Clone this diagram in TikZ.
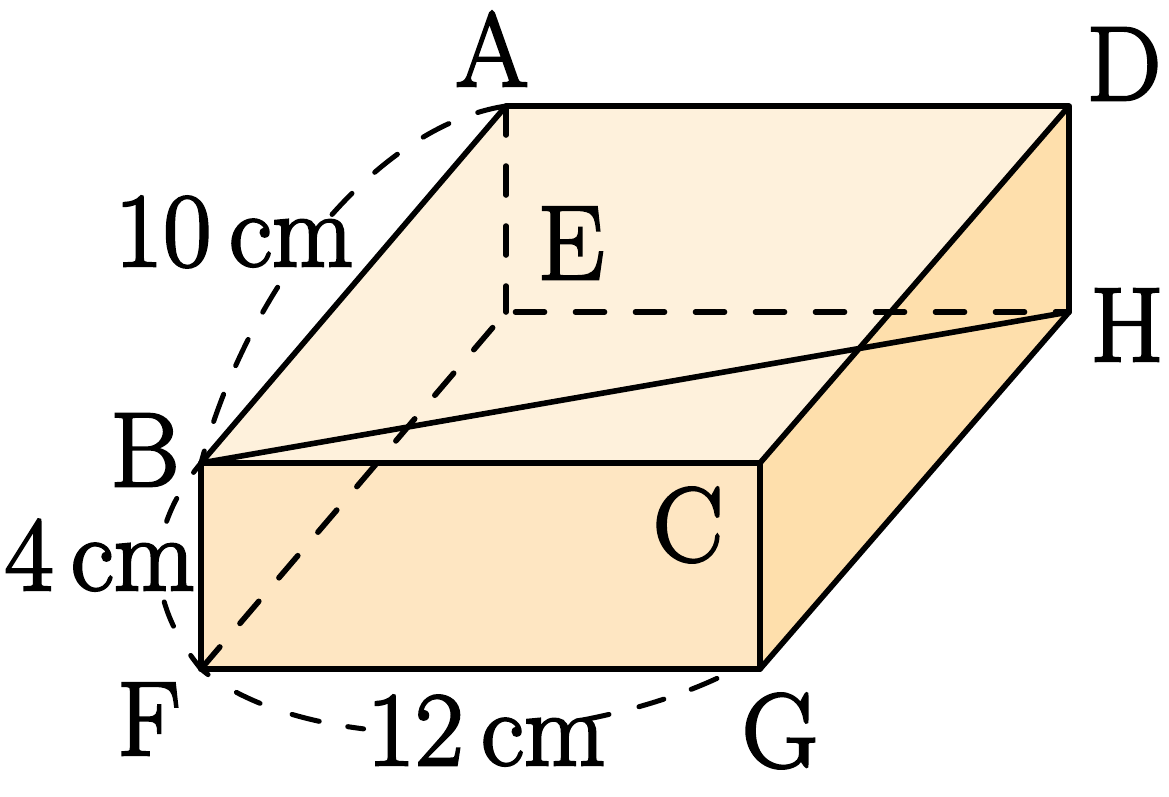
\documentclass[tikz,border=0pt]{standalone}
\usepackage{fontspec}
\newfontfamily\labfont{lmroman17-regular.otf}[RawFeature={embolden=2.4}]
\definecolor{topc}{HTML}{FEF1DC}
\definecolor{frontc}{HTML}{FEE6C2}
\definecolor{sidec}{HTML}{FEDFAC}
\tikzset{
  edge/.style={draw=black,line width=5.6pt,line join=round,line cap=round},
  hid/.style={draw=black,line width=5.6pt,line cap=round,dash pattern=on 29pt off 31pt},
  arcd/.style={draw=black,line width=5pt,line cap=round},
  lab/.style={inner sep=0pt,anchor=base,font=\labfont\fontsize{105.5}{120}\selectfont},
}
\begin{document}
\begin{tikzpicture}[x=1pt,y=-1pt]
\useasboundingbox (0,0) rectangle (1169,796);
\coordinate (A) at (506,106);
\coordinate (D) at (1069,106);
\coordinate (H) at (1069,312);
\coordinate (E) at (506,312);
\coordinate (B) at (201,463);
\coordinate (C) at (760,463);
\coordinate (F) at (201,669);
\coordinate (G) at (760,669);
\coordinate (Gt) at (760,655);
\fill[topc] (A) -- (D) -- (C) -- (B) -- cycle;
\fill[frontc] (B) -- (C) -- (G) -- (F) -- cycle;
\fill[sidec] (D) -- (H) -- (G) -- (C) -- cycle;
\draw[hid] (A) -- (E);
\draw[hid,dash phase=50.5pt] (E) -- (H);
\draw[hid] (F) -- (E);
\draw[edge] (A) -- (D) -- (C) -- (B) -- cycle;
\draw[edge] (B) -- (F) -- (G) -- (C);
\draw[edge] (D) -- (H) -- (G);
\draw[edge] (B) -- (H);
\draw[arcd,dash pattern=on 29pt off 31pt on 29pt off 31pt on 29pt off 31pt on 29pt off 91pt on 29pt off 31pt on 29pt off 31pt on 29pt off 31pt on 29pt off 50pt]
  (A) .. controls (380,125) and (250,280) .. (B);
\draw[arcd,dash pattern=on 12pt off 31pt on 25pt off 82pt on 26pt off 34pt on 50pt off 50pt]
  (B) .. controls (145,530) and (145,600) .. (F);
\draw[arcd,dash pattern=on 9pt off 33.5pt on 26pt off 34pt on 28pt off 29pt on 16pt off 221pt on 26pt off 31pt on 26pt off 29pt on 28pt off 100pt]
  (F) .. controls (320,768) and (620,745) .. (Gt);
\node[lab] (la) at (492,86) {A};
\node[lab] (ld) at (1124,100) {D};
\node[lab] (le) at (571,279) {E};
\node[lab] (lh) at (1127,361) {H};
\node[lab] (lb) at (145,486) {B};
\node[lab] (lc) at (688,561) {C};
\node[lab] (lf) at (149,755) {F};
\node[lab] (lg) at (780,767) {G};
\node[lab] (l10) at (234,266) {10\,cm};
\node[lab] (l4) at (100,590) {4\,cm};
\node[lab] (l12) at (486,765) {12\,cm};
\end{tikzpicture}
\end{document}
